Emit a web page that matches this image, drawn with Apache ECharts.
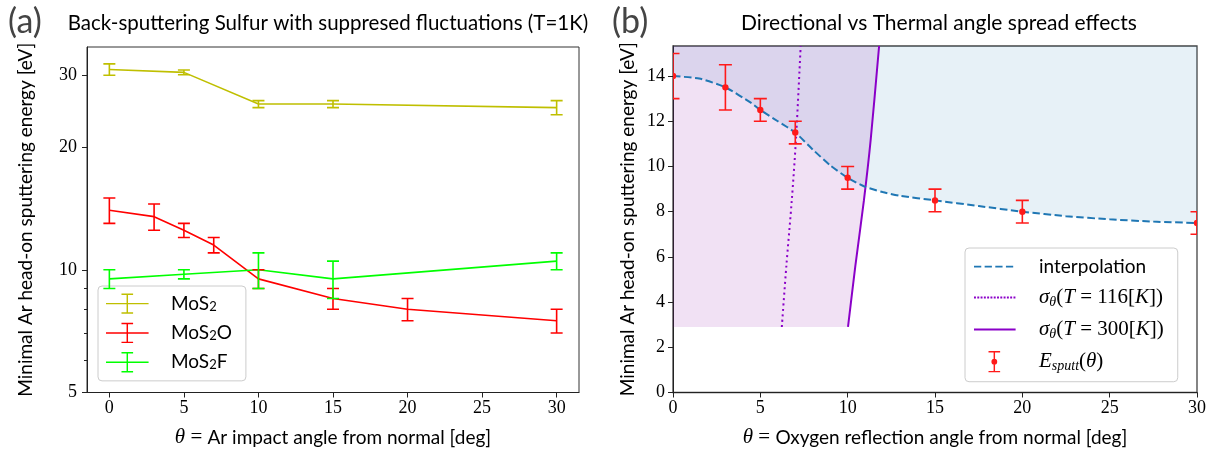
<!DOCTYPE html>
<html>
<head>
<meta charset="utf-8">
<script src="https://cdn.jsdelivr.net/npm/echarts@6/dist/echarts.min.js"></script>
<style>
  html, body { margin: 0; padding: 0; background: #ffffff; }
  #chart { width: 1219px; height: 453px; }
</style>
</head>
<body>
<div id="chart"></div>
<script>
// ---------- Panel (a): minimal head-on energy for back-sputtering sulfur ----------
const angleMoS2 = [0, 5, 10, 15, 30];
const energyMoS2 = [31, 30.5, 25.5, 25.5, 25];
const errMoS2 = [1, 0.4, 0.5, 0.5, 1];

const angleMoS2O = [0, 3, 5, 7, 10, 15, 20, 30];
const energyMoS2O = [14, 13.5, 12.5, 11.5, 9.5, 8.5, 8, 7.5];
const errMoS2O = [1, 1, 0.5, 0.5, 0.5, 0.5, 0.5, 0.5];

const angleMoS2F = [0, 5, 10, 15, 30];
const energyMoS2F = [9.5, 9.75, 10, 9.5, 10.5];
const errMoS2F = [0.5, 0.25, 1, 1, 0.5];

const logTicksMajor = [5, 10, 20, 30];
const logTicksMinor = [6, 7, 8, 9];
const angleTicksA = [0, 5, 10, 15, 20, 25, 30];

// ---------- Panel (b): directional vs thermal angle spread ----------
const sputtAngle = [0, 3, 5, 7, 10, 15, 20, 30];
const sputtEnergy = [14, 13.5, 12.5, 11.5, 9.5, 8.5, 8, 7.5];
const sputtErr = [1, 1, 0.5, 0.5, 0.5, 0.5, 0.5, 0.5];

const interpAngle = [0, 1.5, 3, 4.5, 5, 6, 7, 8, 9, 10, 11, 12, 13, 15, 17.5, 20, 22.5, 25, 27.5, 30];
const interpEnergy = [14, 13.89, 13.5, 12.8, 12.5, 12.0, 11.5, 10.75, 10.05, 9.5, 9.1, 8.87, 8.7, 8.5, 8.25, 8.0, 7.8, 7.66, 7.56, 7.5];

// thermal spread boundaries, angle reached at a given energy
const spreadEnergy = [2.9, 5.6, 8.5, 11.2, 15.33];
const spreadAngle116 = [6.23, 6.49, 6.8, 7.04, 7.31];
const spreadAngle300 = [10.02, 10.44, 10.93, 11.32, 11.8];

const energyTicksB = [0, 2, 4, 6, 8, 10, 12, 14];

// ---------- styling ----------
const SANS = 'Lato, "Open Sans", sans-serif';
const SERIF = '"Liberation Serif", "DejaVu Serif", serif';
const C_MOS2 = '#bfbf00', C_MOS2O = '#ff0000', C_MOS2F = '#00ff00';
const C_INTERP = '#1f77b4', C_SPREAD = '#8a00c8', C_SPUTT = '#ff1a1a';

const richMath = {
  tx: { fontFamily: SANS, fontSize: 19, color: '#000', lineHeight: 24 },
  mi: { fontFamily: SERIF, fontStyle: 'italic', fontSize: 21, color: '#000', lineHeight: 24 },
  mr: { fontFamily: SERIF, fontSize: 21, color: '#000', lineHeight: 24 },
  ms: { fontFamily: SERIF, fontStyle: 'italic', fontSize: 14, color: '#000', lineHeight: 15, verticalAlign: 'bottom' },
  sb: { fontFamily: SANS, fontSize: 13, color: '#000', lineHeight: 14, verticalAlign: 'bottom' }
};

// tiny corner dots keep the icon's box at full size
const BOX = (w, h) => `M0,0h0.01v0.01h-0.01Z M${w},${h}h-0.01v-0.01h0.01Z`;
const ICON_LINE_ERR = 'path://' + BOX(62, 22) + ' M0,10.25H44V11.75H0Z M21.25,0.5H22.75V21.5H21.25Z M16,0.5H28V2H16Z M16,20H28V21.5H16Z';
const ICON_DASH = 'path://' + BOX(62, 22) + ' M0,10H7.5V12H0Z M11,10H18.5V12H11Z M22,10H29.5V12H22Z M33,10H40.5V12H33Z';
let dots = '';
for (let x = 0; x < 42; x += 3.4) dots += ` M${x.toFixed(1)},10h2v2h-2Z`;
const ICON_DOT = 'path://' + BOX(62, 22) + dots;
const ICON_SOLID = 'path://' + BOX(62, 22) + ' M0,10H43V12H0Z';
const ICON_ERR_DOT = 'path://' + BOX(62, 22) + ' M20.25,0H21.75V22H20.25Z M15,0H27V1.5H15Z M15,20.5H27V22H15Z M24,11A3,3 0 1,1 18,11A3,3 0 1,1 24,11Z';

function lineSeries(name, xs, ys, color, xi, yi) {
  return {
    type: 'line', name, xAxisIndex: xi, yAxisIndex: yi,
    data: xs.map((x, i) => [x, ys[i]]),
    symbol: 'none', lineStyle: { color, width: 1.6 }, itemStyle: { color },
    z: 4, animation: false
  };
}

function errorBars(name, xs, ys, errs, color, xi, yi, cap, withDot) {
  return {
    type: 'custom', name, xAxisIndex: xi, yAxisIndex: yi, clip: true,
    itemStyle: { color }, z: 6, animation: false,
    data: xs.map((x, i) => [x, ys[i] - errs[i], ys[i] + errs[i], ys[i]]),
    renderItem(params, api) {
      const x = api.value(0);
      const hi = api.coord([x, api.value(2)]);
      const lo = api.coord([x, api.value(1)]);
      const st = { stroke: color, lineWidth: 1.6 };
      const children = [
        { type: 'line', shape: { x1: hi[0], y1: hi[1], x2: lo[0], y2: lo[1] }, style: st },
        { type: 'line', shape: { x1: hi[0] - cap, y1: hi[1], x2: hi[0] + cap, y2: hi[1] }, style: st },
        { type: 'line', shape: { x1: lo[0] - cap, y1: lo[1], x2: lo[0] + cap, y2: lo[1] }, style: st }
      ];
      if (withDot) {
        const c = api.coord([x, api.value(3)]);
        children.push({ type: 'circle', shape: { cx: c[0], cy: c[1], r: 3.2 }, style: { fill: color } });
      }
      return { type: 'group', children };
    }
  };
}

const tickLabel = { fontFamily: SERIF, fontSize: 18, color: '#000' };
const axisLine = { show: true, onZero: false, lineStyle: { color: '#222', width: 1 } };
const nameStyle = { fontFamily: SANS, fontSize: 19, color: '#000' };

const legendNames = {
  'MoS2': 'MoS{sb|2}', 'MoS2O': 'MoS{sb|2}O', 'MoS2F': 'MoS{sb|2}F',
  'interpolation': 'interpolation',
  'sigma116': '{mi|σ}{ms|θ}{mr|(}{mi|T}{mr| = 116[}{mi|K}{mr|])}',
  'sigma300': '{mi|σ}{ms|θ}{mr|(}{mi|T}{mr| = 300[}{mi|K}{mr|])}',
  'Esputt': '{mi|E}{ms|sputt}{mr|(}{mi|θ}{mr|)}'
};

const legendBase = {
  orient: 'vertical', backgroundColor: 'rgba(255,255,255,0.8)',
  borderColor: '#cccccc', borderWidth: 1, borderRadius: 4,
  itemHeight: 22, selectedMode: false,
  textStyle: { fontFamily: SANS, fontSize: 19, color: '#000', rich: richMath },
  formatter: n => legendNames[n]
};

const option = {
  animation: false,
  backgroundColor: '#ffffff',
  title: [
    { text: '(a)', left: 3, top: 0, textStyle: { fontFamily: SANS, fontSize: 34, fontWeight: 'normal', color: '#444' } },
    { text: 'Back-sputtering Sulfur with suppresed fluctuations (T=1K)', left: 323, top: 8, textAlign: 'center',
      textStyle: { fontFamily: SANS, fontSize: 20.5, fontWeight: 'normal', color: '#000' } },
    { text: '(b)', left: 607, top: 0, textStyle: { fontFamily: SANS, fontSize: 34, fontWeight: 'normal', color: '#444' } },
    { text: 'Directional vs Thermal angle spread effects', left: 934, top: 8, textAlign: 'center',
      textStyle: { fontFamily: SANS, fontSize: 21, fontWeight: 'normal', color: '#000' } }
  ],
  grid: [
    { left: 87, right: 640, top: 47, bottom: 60, show: true, borderColor: '#333', borderWidth: 1, backgroundColor: 'transparent' },
    { left: 673, right: 22, top: 46, bottom: 60, show: true, borderColor: '#444', borderWidth: 1.3, backgroundColor: 'transparent' }
  ],
  xAxis: [
    {
      type: 'value', gridIndex: 0, min: -1.5, max: 31.5,
      axisLine, splitLine: { show: false },
      axisTick: { length: 5, customValues: angleTicksA, lineStyle: { color: '#222' } },
      axisLabel: { ...tickLabel, margin: 7, customValues: angleTicksA },
      name: '{mi|θ}{mr| = }{tx|Ar impact angle from normal [deg]}', nameLocation: 'middle', nameGap: 33,
      nameTextStyle: { rich: richMath }
    },
    {
      type: 'value', gridIndex: 1, min: 0, max: 30, interval: 5,
      axisLine, splitLine: { show: false },
      axisTick: { length: 5, lineStyle: { color: '#222' } },
      axisLabel: { ...tickLabel, margin: 7, showMinLabel: true, showMaxLabel: true },
      name: '{mi|θ}{mr| = }{tx|Oxygen reflection angle from normal [deg]}', nameLocation: 'middle', nameGap: 33,
      nameTextStyle: { rich: richMath }
    }
  ],
  yAxis: [
    {
      type: 'log', logBase: 10, gridIndex: 0, min: 5, max: 35.2, position: 'left',
      axisLine, splitLine: { show: false }, minorTick: { show: false },
      axisTick: { length: 5, customValues: logTicksMajor, lineStyle: { color: '#222' } },
      axisLabel: { ...tickLabel, margin: 10, customValues: logTicksMajor, formatter: v => String(Math.round(v)) },
      name: 'Minimal Ar head-on sputtering energy [eV]', nameLocation: 'middle', nameGap: 52,
      nameTextStyle: nameStyle
    },
    {
      type: 'log', logBase: 10, gridIndex: 0, min: 5, max: 35.2, position: 'left',
      axisLine: { show: false, onZero: false }, splitLine: { show: false },
      axisTick: { length: 3, customValues: logTicksMinor, lineStyle: { color: '#222' } },
      axisLabel: { show: false, customValues: logTicksMinor }
    },
    {
      type: 'value', gridIndex: 1, min: 0, max: 15.33, interval: 2,
      axisLine, splitLine: { show: false },
      axisTick: { length: 5, customValues: energyTicksB, lineStyle: { color: '#222' } },
      axisLabel: { ...tickLabel, margin: 8, customValues: energyTicksB },
      name: 'Minimal Ar head-on sputtering energy [eV]', nameLocation: 'middle', nameGap: 36,
      nameTextStyle: nameStyle
    }
  ],
  legend: [
    {
      ...legendBase, left: 98, top: 286, padding: [7, 14, 8, 8], itemGap: 8, itemWidth: 60,
      data: [
        { name: 'MoS2', icon: ICON_LINE_ERR },
        { name: 'MoS2O', icon: ICON_LINE_ERR },
        { name: 'MoS2F', icon: ICON_LINE_ERR }
      ]
    },
    {
      ...legendBase, left: 965, top: 248, padding: [8, 14, 8, 9], itemGap: 9.5, itemWidth: 60,
      data: [
        { name: 'interpolation', icon: ICON_DASH },
        { name: 'sigma116', icon: ICON_DOT },
        { name: 'sigma300', icon: ICON_SOLID },
        { name: 'Esputt', icon: ICON_ERR_DOT }
      ]
    }
  ],
  series: [
    // panel (a)
    lineSeries('MoS2', angleMoS2, energyMoS2, C_MOS2, 0, 0),
    errorBars('MoS2', angleMoS2, energyMoS2, errMoS2, C_MOS2, 0, 0, 6, false),
    lineSeries('MoS2O', angleMoS2O, energyMoS2O, C_MOS2O, 0, 0),
    errorBars('MoS2O', angleMoS2O, energyMoS2O, errMoS2O, C_MOS2O, 0, 0, 6, false),
    lineSeries('MoS2F', angleMoS2F, energyMoS2F, C_MOS2F, 0, 0),
    errorBars('MoS2F', angleMoS2F, energyMoS2F, errMoS2F, C_MOS2F, 0, 0, 6, false),

    // panel (b): shaded regions
    {
      type: 'line', name: 'directional region', xAxisIndex: 1, yAxisIndex: 2,
      data: interpAngle.map((x, i) => [x, interpEnergy[i]]), smooth: 0.2,
      symbol: 'none', lineStyle: { width: 0, opacity: 0 },
      areaStyle: { origin: 'end', color: 'rgba(31,119,180,0.15)' }, z: 1, silent: true
    },
    {
      type: 'line', name: 'thermal region', xAxisIndex: 1, yAxisIndex: 2,
      data: [[0, spreadEnergy[0]]].concat(spreadAngle300.map((x, i) => [x, spreadEnergy[i]])),
      symbol: 'none', lineStyle: { width: 0, opacity: 0 },
      areaStyle: { origin: 'end', color: 'rgba(140,0,160,0.17)' }, z: 2, silent: true
    },
    // panel (b): curves
    {
      type: 'line', name: 'sigma116', xAxisIndex: 1, yAxisIndex: 2,
      data: spreadAngle116.map((x, i) => [x, spreadEnergy[i]]), smooth: 0.3,
      symbol: 'none', lineStyle: { color: C_SPREAD, width: 2, type: [2, 3.4] }, itemStyle: { color: C_SPREAD }, z: 4
    },
    {
      type: 'line', name: 'sigma300', xAxisIndex: 1, yAxisIndex: 2,
      data: spreadAngle300.map((x, i) => [x, spreadEnergy[i]]), smooth: 0.3,
      symbol: 'none', lineStyle: { color: C_SPREAD, width: 2 }, itemStyle: { color: C_SPREAD }, z: 4
    },
    {
      type: 'line', name: 'interpolation', xAxisIndex: 1, yAxisIndex: 2,
      data: interpAngle.map((x, i) => [x, interpEnergy[i]]), smooth: 0.2,
      symbol: 'none', lineStyle: { color: C_INTERP, width: 2, type: [7.5, 3.5] }, itemStyle: { color: C_INTERP }, z: 5
    },
    errorBars('Esputt', sputtAngle, sputtEnergy, sputtErr, C_SPUTT, 1, 2, 6.5, true)
  ]
};

const chart = echarts.init(document.getElementById('chart'), null, { renderer: 'canvas' });
chart.setOption(option);
</script>
</body>
</html>
